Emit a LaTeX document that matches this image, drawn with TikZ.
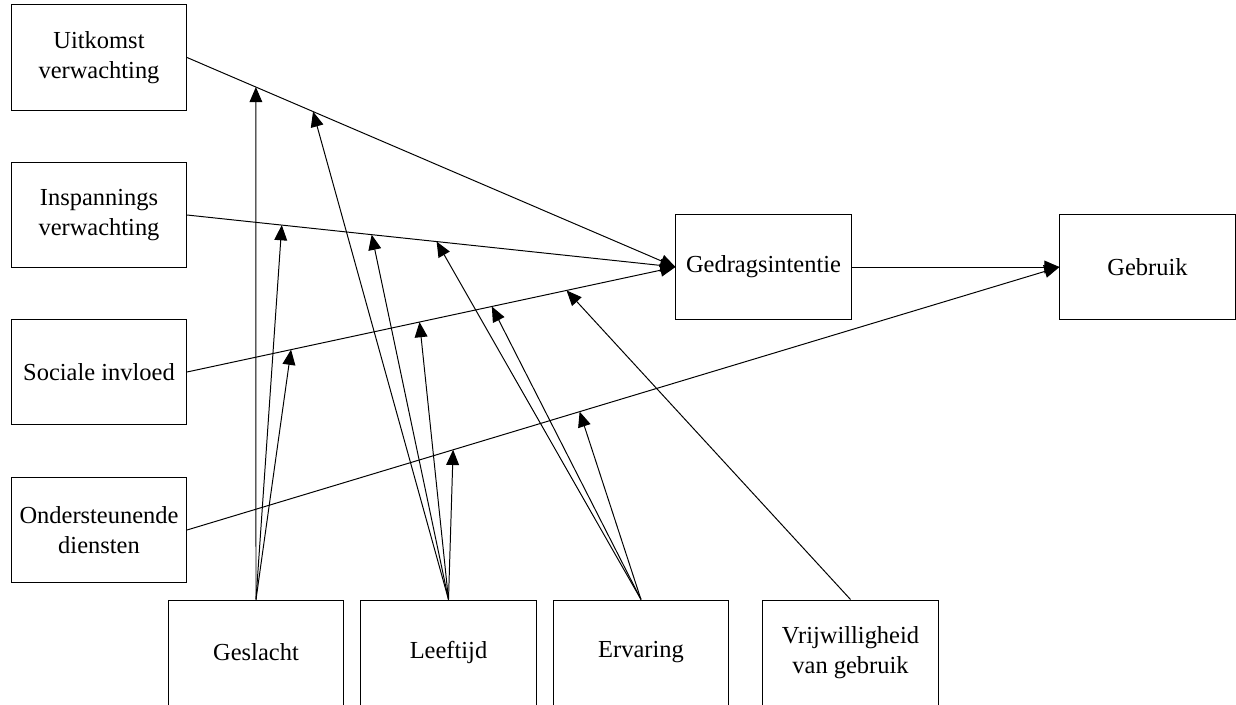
\documentclass[tikz,border=0pt]{standalone}
\usepackage{fontspec}
\setmainfont{Liberation Serif}
\usetikzlibrary{arrows.meta}

\begin{document}
\begin{tikzpicture}[x=0.025cm,y=-0.025cm,line width=0.7pt,
  box/.style={draw,minimum width=4.375cm,minimum height=2.625cm,inner sep=0pt,
              align=center,font=\fontsize{17.4}{21.3}\selectfont},
  pijl/.style={-{Triangle[length=0.38cm,width=0.32cm]}}]
 \useasboundingbox (0,0) rectangle (1236,704);
 % determinanten
 \node[box] (uit) at (99,57.5) {Uitkomst\\verwachting};
 \node[box] (insp) at (99,215) {Inspannings\\verwachting};
 \node[box] (soc) at (99,372) {Sociale invloed};
 \node[box] (ond) at (99,530) {Ondersteunende\\diensten};
 \node[box] (gi) at (763.5,267) {Gedragsintentie};
 \node[box] (geb) at (1147.5,267) {Gebruik};
 % moderatoren
 \node[box] (gesl) at (256,652.5) {Geslacht};
 \node[box] (leef) at (448.5,652.5) {Leeftijd};
 \node[box] (erv) at (641,652.5) {Ervaring};
 \node[box] (vrij) at (850.5,652.5) {Vrijwilligheid\\van gebruik};
 \draw[pijl] (uit.east) -- (gi.west) coordinate[pos=0.141] (u1) coordinate[pos=0.258] (u2);
 \draw[pijl] (insp.east) -- (gi.west) coordinate[pos=0.194] (i1) coordinate[pos=0.378] (i2)
   coordinate[pos=0.511] (i3);
 \draw[pijl] (soc.east) -- (gi.west) coordinate[pos=0.213] (s1) coordinate[pos=0.476] (s2)
   coordinate[pos=0.624] (s3) coordinate[pos=0.777] (s4);
 \draw[pijl] (ond.east) -- (geb.west) coordinate[pos=0.305] (o1) coordinate[pos=0.45] (o2);
 \draw[pijl] (gi) -- (geb);
 \foreach \t in {u1,i1,s1} \draw[pijl] (gesl.north) -- (\t);
 \foreach \t in {u2,i2,s2,o1} \draw[pijl] (leef.north) -- (\t);
 \foreach \t in {i3,s3,o2} \draw[pijl] (erv.north) -- (\t);
 \draw[pijl] (vrij.north) -- (s4);
\end{tikzpicture}
\end{document}
